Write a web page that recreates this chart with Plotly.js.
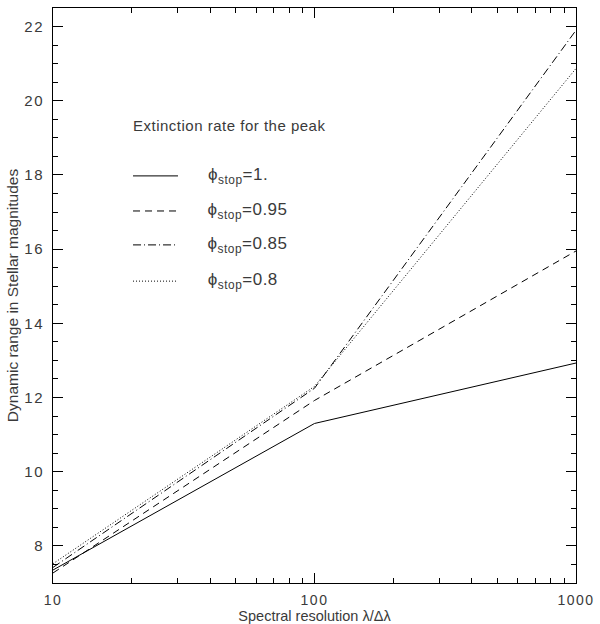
<!DOCTYPE html>
<html>
<head>
<meta charset="utf-8">
<script src="https://cdn.plot.ly/plotly-3.0.1.min.js"></script>
<style>
html,body{margin:0;padding:0;background:#fff;}
#chart{width:600px;height:624px;}
#chart .xtick text, #chart .ytick text{letter-spacing:1.5px;}
#chart .annotation-text{letter-spacing:0.5px;}
</style>
</head>
<body>
<div id="chart"></div>
<script>
// Spectral resolution values (x)
const resolution = [10, 100, 1000];
// Dynamic range (stellar magnitudes) for each stop value
const phi100 = [7.35, 11.30, 12.93];
const phi095 = [7.27, 11.92, 15.95];
const phi085 = [7.42, 12.25, 21.90];
const phi080 = [7.52, 12.30, 20.87];
const stopLabels = ['1.', '0.95', '0.85', '0.8'];
const legendTitle = 'Extinction rate for the peak';
const yTicks = [8, 10, 12, 14, 16, 18, 20, 22];
const xTicks = [10, 100, 1000];

const series = [phi100, phi095, phi085, phi080];
const dashes = ['solid', '7px,5px', '8px,3px,1px,3px', '1px,2px'];

const traces = series.map((ys, i) => ({
  x: resolution, y: ys, type: 'scatter', mode: 'lines',
  line: {color: '#000', width: 1, dash: dashes[i]},
  showlegend: false, hoverinfo: 'skip'
}));

const font = 'Liberation Sans, Arial, sans-serif';
const txt = '#3a3a3a';

// legend drawn in paper coordinates
const legY = [0.708, 0.647, 0.588, 0.525];
const shapes = legY.map((y, i) => ({
  type: 'line', xref: 'paper', yref: 'paper', x0: 0.153, x1: 0.239, y0: y, y1: y,
  line: {color: '#000', width: 1, dash: dashes[i]}
}));
const annotations = legY.map((y, i) => ({
  xref: 'paper', yref: 'paper', x: 0.296, y: y, xanchor: 'left', yanchor: 'middle',
  text: 'ϕ<sub>stop</sub>=' + stopLabels[i], showarrow: false,
  font: {family: font, size: 17, color: txt}
}));
annotations.push({
  xref: 'paper', yref: 'paper', x: 0.163, y: 0.795, xanchor: 'left', yanchor: 'middle',
  text: legendTitle, showarrow: false, font: {family: font, size: 15, color: txt}
});

const axisCommon = {
  showgrid: false, zeroline: false, showline: true, linecolor: '#000', linewidth: 1,
  mirror: 'allticks', ticks: 'inside', tickcolor: '#000', tickwidth: 1,
  tickfont: {family: font, size: 15, color: txt}
};

const layout = {
  width: 600, height: 624,
  margin: {l: 53, r: 24, t: 8, b: 41},
  paper_bgcolor: '#fff', plot_bgcolor: '#fff',
  showlegend: false,
  xaxis: Object.assign({}, axisCommon, {
    type: 'log', range: [1, 3], tickmode: 'array', tickvals: xTicks,
    ticktext: xTicks.map(String), ticklen: 10, ticklabelstandoff: 4,
    tickfont: {family: font, size: 14, color: txt},
    minor: {tickmode: 'array', tickvals: [20,30,40,50,60,70,80,90,200,300,400,500,600,700,800,900],
            ticks: 'inside', ticklen: 5, tickcolor: '#000', tickwidth: 1},
    title: {text: 'Spectral resolution λ/Δλ', font: {family: font, size: 14.5, color: txt}, standoff: 3}
  }),
  yaxis: Object.assign({}, axisCommon, {
    range: [7, 22.5], tickmode: 'array', tickvals: yTicks, ticklen: 10, ticklabelstandoff: 5,
    minor: {dtick: 0.5, tick0: 7, ticks: 'inside', ticklen: 5, tickcolor: '#000', tickwidth: 1},
    title: {text: 'Dynamic range in Stellar magnitudes', font: {family: font, size: 15.5, color: txt}, standoff: 4}
  }),
  shapes: shapes,
  annotations: annotations
};

Plotly.newPlot('chart', traces, layout, {staticPlot: true, displayModeBar: false});
</script>
</body>
</html>
